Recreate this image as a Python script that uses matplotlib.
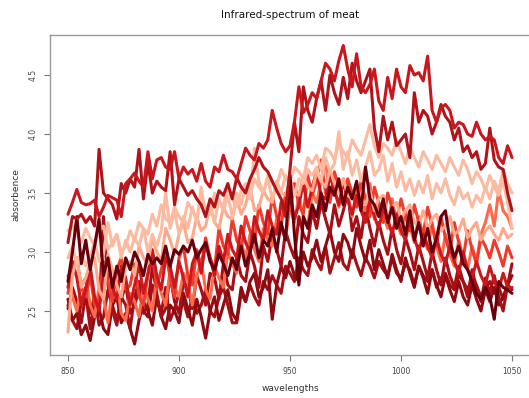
import numpy as np
import matplotlib
matplotlib.use('Agg')
import matplotlib.pyplot as plt

# wavelengths 850..1050 nm, step 2
wavelengths = np.arange(850, 1051, 2)

# absorbance spectra (one list per sample)
spec_t1 = [3.32, 3.42, 3.53, 3.42, 3.40, 3.41, 3.44, 3.30, 3.38, 3.48,
           3.46, 3.44, 3.30, 3.58, 3.62, 3.67, 3.60, 3.55, 3.85, 3.62,
           3.78, 3.80, 3.72, 3.70, 3.85, 3.62, 3.72, 3.66, 3.70, 3.60,
           3.75, 3.60, 3.55, 3.72, 3.68, 3.82, 3.70, 3.68, 3.62, 3.75,
           3.88, 3.82, 3.78, 3.92, 3.88, 3.95, 4.20, 4.05, 3.92, 3.85,
           3.90, 4.10, 4.40, 4.18, 4.25, 4.35, 4.30, 4.45, 4.60, 4.55,
           4.45, 4.62, 4.75, 4.55, 4.40, 4.68, 4.40, 4.35, 4.42, 4.55,
           4.28, 4.20, 4.48, 4.30, 4.55, 4.40, 4.35, 4.58, 4.50, 4.52,
           4.45, 4.66, 4.20, 4.10, 4.22, 4.25, 4.20, 4.05, 4.10, 4.08,
           4.00, 3.98, 4.10, 4.00, 3.95, 3.98, 3.95, 3.80, 3.75, 3.90,
           3.80]
spec_t2 = [3.08, 3.30, 3.28, 3.32, 3.25, 3.30, 3.22, 3.87, 3.50, 3.45,
           3.40, 3.28, 3.58, 3.50, 3.62, 3.55, 3.87, 3.45, 3.76, 3.50,
           3.60, 3.55, 3.52, 3.85, 3.40, 3.62, 3.55, 3.48, 3.52, 3.45,
           3.40, 3.30, 3.45, 3.38, 3.52, 3.48, 3.58, 3.45, 3.63, 3.55,
           3.50, 3.62, 3.70, 3.80, 3.72, 3.68, 3.60, 3.52, 3.45, 3.35,
           3.70, 4.10, 3.85, 4.40, 4.20, 4.10, 4.30, 4.45, 4.20, 4.50,
           4.35, 4.25, 4.48, 4.30, 4.60, 4.45, 4.35, 4.45, 4.55, 4.05,
           3.85, 4.15, 3.95, 4.10, 3.90, 3.95, 4.00, 3.80, 4.35, 4.10,
           4.20, 4.15, 4.00, 4.10, 4.25, 4.15, 4.10, 3.95, 4.05, 3.85,
           3.90, 3.80, 3.85, 3.70, 3.75, 4.05, 3.78, 3.72, 3.70, 3.50,
           3.35]
spec_p1 = [3.18, 3.22, 3.15, 3.08, 3.20, 3.12, 3.05, 3.18, 3.22, 3.02,
           3.08, 3.15, 3.00, 3.05, 3.18, 3.10, 3.25, 3.20, 3.15, 3.32,
           3.22, 3.40, 3.28, 3.25, 3.38, 3.30, 3.25, 3.42, 3.35, 3.28,
           3.45, 3.38, 3.32, 3.50, 3.42, 3.40, 3.55, 3.45, 3.38, 3.52,
           3.58, 3.48, 3.62, 3.55, 3.50, 3.65, 3.58, 3.55, 3.70, 3.62,
           3.60, 3.72, 3.68, 3.62, 3.80, 3.75, 3.82, 3.70, 3.88, 3.85,
           3.78, 3.92, 3.85, 3.80, 3.95, 3.88, 3.82, 3.95, 4.08, 3.90,
           3.80, 3.92, 3.88, 3.82, 3.95, 3.85, 3.75, 3.90, 3.80, 3.72,
           3.85, 3.78, 3.70, 3.82, 3.75, 3.68, 3.80, 3.72, 3.65, 3.78,
           3.70, 3.58, 3.68, 3.62, 3.52, 3.65, 3.55, 3.48, 3.60, 3.42,
           3.20]
spec_p2 = [2.95, 3.05, 2.90, 3.00, 2.88, 2.95, 3.10, 2.92, 2.98, 3.25,
           3.05, 3.15, 2.95, 3.10, 3.00, 3.12, 3.05, 3.20, 3.00, 3.15,
           3.05, 3.18, 3.50, 3.20, 3.35, 3.15, 3.30, 3.20, 3.38, 3.25,
           3.55, 3.30, 3.40, 3.25, 3.45, 3.35, 3.48, 3.30, 3.50, 3.40,
           3.55, 3.45, 3.88, 3.60, 3.50, 3.62, 3.45, 3.58, 3.50, 3.65,
           3.55, 3.48, 3.62, 3.58, 3.70, 3.65, 3.72, 3.60, 3.80, 3.68,
           3.75, 4.02, 3.70, 3.85, 3.65, 3.78, 3.60, 3.72, 3.85, 3.65,
           3.70, 3.82, 3.60, 3.75, 3.55, 3.68, 3.52, 3.62, 3.48, 3.60,
           3.50, 3.65, 3.45, 3.58, 3.50, 3.62, 3.48, 3.40, 3.55, 3.45,
           3.50, 3.38, 3.48, 3.42, 3.55, 3.45, 3.60, 3.52, 3.70, 3.58,
           3.50]
spec_p3 = [2.32, 2.80, 2.95, 2.70, 2.78, 2.92, 2.95, 2.68, 2.60, 2.98,
           2.85, 2.72, 2.62, 2.88, 2.92, 2.80, 3.05, 2.95, 2.90, 3.12,
           3.00, 2.92, 3.20, 3.10, 2.98, 3.15, 3.25, 3.08, 3.12, 3.30,
           3.18, 3.22, 3.40, 3.25, 3.20, 3.38, 3.30, 3.28, 3.45, 3.32,
           3.40, 3.55, 3.35, 3.38, 3.52, 3.45, 3.42, 3.60, 3.50, 3.48,
           3.62, 3.50, 3.48, 3.65, 3.55, 3.52, 3.68, 3.60, 3.55, 3.70,
           3.58, 3.50, 3.62, 3.48, 3.45, 3.58, 3.42, 3.40, 3.52, 3.35,
           3.45, 3.48, 3.30, 3.38, 3.42, 3.28, 3.35, 3.40, 3.25, 3.22,
           3.35, 3.20, 3.28, 3.32, 3.18, 3.22, 3.30, 3.15, 3.18, 3.28,
           3.12, 3.20, 3.25, 3.10, 3.18, 3.22, 3.15, 3.10, 3.20, 3.12,
           3.15]
spec_o1 = [2.65, 2.85, 2.95, 2.70, 2.62, 2.80, 2.55, 2.60, 2.92, 2.75,
           2.58, 2.85, 2.95, 2.68, 2.72, 2.90, 2.62, 2.55, 2.80, 2.98,
           2.70, 2.85, 3.00, 2.78, 2.62, 2.95, 3.05, 2.80, 2.72, 3.02,
           2.88, 3.12, 2.95, 2.85, 3.20, 3.05, 2.98, 3.28, 3.10, 3.02,
           3.30, 3.18, 3.08, 3.40, 3.25, 3.15, 3.48, 3.30, 3.22, 3.50,
           3.35, 3.58, 3.40, 3.32, 3.65, 3.48, 3.60, 3.78, 3.50, 3.42,
           3.68, 3.55, 3.40, 3.62, 3.50, 3.38, 3.60, 3.45, 3.30, 3.55,
           3.42, 3.25, 3.50, 3.38, 3.28, 3.45, 3.30, 3.18, 3.40, 3.25,
           3.15, 3.38, 3.22, 3.05, 3.30, 3.12, 3.00, 3.25, 3.08, 2.95,
           3.18, 3.02, 2.90, 3.12, 3.05, 2.95, 3.10, 3.00, 2.88, 3.05,
           2.95]
spec_o2 = [2.80, 2.62, 2.50, 2.72, 2.78, 2.55, 2.45, 2.70, 2.62, 2.40,
           2.68, 2.75, 2.48, 2.42, 2.65, 2.58, 2.45, 2.72, 2.60, 2.50,
           2.78, 2.65, 2.55, 2.85, 2.70, 2.62, 2.82, 2.75, 2.55, 2.80,
           2.92, 2.68, 2.60, 2.88, 2.78, 2.70, 3.00, 2.90, 2.82, 3.08,
           2.95, 3.15, 3.02, 2.92, 3.20, 3.10, 3.05, 3.28, 3.18, 3.12,
           3.38, 3.25, 3.48, 3.30, 3.22, 3.50, 3.42, 3.60, 3.78, 3.45,
           3.55, 3.38, 3.62, 3.48, 3.30, 3.52, 3.40, 3.35, 3.58, 3.28,
           3.40, 3.32, 3.20, 3.45, 3.25, 3.15, 3.35, 3.22, 3.08, 3.30,
           3.12, 3.02, 3.25, 3.05, 2.92, 3.15, 2.98, 2.88, 3.10, 2.95,
           2.85, 3.05, 2.92, 3.15, 3.25, 3.40, 3.22, 3.52, 3.35, 3.30,
           3.20]
spec_d1 = [2.75, 3.00, 3.30, 2.90, 3.10, 2.85, 3.05, 3.28, 2.80, 2.95,
           2.70, 2.88, 2.75, 2.95, 2.85, 3.00, 2.92, 2.80, 2.98, 2.90,
           2.95, 2.90, 3.05, 2.88, 3.02, 2.98, 3.05, 3.00, 3.10, 2.95,
           3.02, 3.08, 2.92, 2.85, 2.98, 2.90, 2.80, 2.95, 2.85, 3.05,
           2.88, 3.00, 3.15, 2.95, 3.10, 3.05, 3.20, 3.00, 3.25, 3.10,
           3.65, 3.15, 2.72, 3.30, 3.20, 3.40, 3.30, 3.50, 3.35, 3.55,
           3.48, 3.62, 3.40, 3.55, 3.45, 3.60, 3.35, 3.72, 3.45, 3.40,
           3.30, 3.45, 3.25, 3.38, 3.20, 3.30, 3.15, 3.35, 3.10, 3.25,
           3.05, 3.20, 3.00, 3.12, 3.30, 3.35, 3.10, 2.95, 3.05, 2.90,
           2.85, 2.75, 2.65, 2.60, 2.70, 2.62, 2.43, 2.75, 2.70, 2.68,
           2.65]
spec_d2 = [2.52, 2.70, 2.58, 2.40, 2.65, 2.35, 2.60, 2.48, 3.30, 2.72,
           2.50, 2.38, 2.62, 2.55, 2.35, 2.62, 2.75, 2.48, 2.55, 2.88,
           2.65, 2.45, 2.52, 2.80, 2.58, 2.48, 2.75, 2.70, 2.52, 2.80,
           2.68, 2.55, 2.82, 2.78, 2.60, 2.90, 2.72, 2.68, 2.95, 2.80,
           2.75, 3.00, 2.88, 2.70, 3.05, 2.92, 3.15, 3.02, 2.88, 3.18,
           3.05, 2.95, 3.30, 3.15, 3.08, 3.35, 3.20, 3.42, 3.28, 3.15,
           3.40, 3.22, 3.35, 3.50, 3.18, 3.30, 3.12, 3.38, 3.20, 3.05,
           3.25, 3.10, 2.98, 3.20, 3.02, 2.90, 3.12, 3.00, 2.85, 3.05,
           2.92, 2.78, 3.00, 2.85, 2.72, 2.95, 2.80, 2.70, 2.88, 2.75,
           2.62, 2.85, 2.70, 2.58, 2.78, 2.65, 2.80, 2.62, 2.50, 2.72,
           2.90]
spec_d3 = [2.60, 2.42, 2.48, 2.30, 2.38, 2.25, 2.45, 2.52, 2.35, 2.30,
           2.55, 2.62, 2.40, 2.48, 2.35, 2.22, 2.42, 2.58, 2.50, 2.38,
           2.62, 2.45, 2.35, 2.55, 2.50, 2.40, 2.65, 2.52, 2.38, 2.60,
           2.45, 2.27, 2.50, 2.62, 2.42, 2.55, 2.68, 2.48, 2.42, 2.70,
           2.58, 2.75, 2.82, 2.62, 2.70, 2.85, 2.43, 2.72, 2.88, 2.78,
           2.92, 2.80, 2.75, 3.00, 2.88, 2.95, 3.10, 2.92, 3.05, 3.18,
           3.00, 2.92, 3.15, 3.08, 2.95, 3.20, 3.05, 2.92, 3.10, 2.85,
           3.02, 2.90, 2.78, 2.98, 2.85, 2.75, 2.95, 2.82, 2.70, 2.88,
           2.78, 2.65, 2.85, 2.72, 2.62, 2.80, 2.68, 2.58, 2.75, 2.62,
           2.55, 2.72, 2.60, 2.50, 2.68, 2.58, 2.70, 2.55, 2.62, 2.72,
           2.80]
spec_r1 = [2.70, 2.92, 2.78, 2.55, 2.68, 2.88, 2.62, 2.50, 2.80, 2.95,
           2.70, 2.60, 2.88, 2.78, 2.55, 2.72, 2.90, 2.65, 2.82, 3.02,
           2.80, 2.68, 2.95, 2.88, 2.70, 2.92, 2.78, 2.62, 2.90, 3.00,
           2.82, 3.08, 2.95, 2.80, 3.05, 2.92, 3.15, 3.02, 2.95, 3.22,
           3.08, 3.00, 3.30, 3.18, 3.10, 3.35, 3.22, 3.15, 3.42, 3.30,
           3.48, 3.28, 3.40, 3.58, 3.38, 3.55, 3.68, 3.48, 3.45, 3.65,
           3.52, 3.40, 3.60, 3.45, 3.32, 3.48, 3.35, 3.25, 3.45, 3.30,
           3.20, 3.38, 3.28, 3.15, 3.32, 3.18, 3.10, 3.28, 3.12, 3.00,
           3.15, 3.05, 2.95, 3.12, 2.98, 2.90, 3.05, 2.92, 2.82, 3.00,
           2.85, 2.78, 2.92, 2.80, 2.72, 2.88, 2.75, 2.68, 2.82, 2.70,
           2.70]
spec_r2 = [2.55, 2.42, 2.35, 2.58, 2.70, 2.48, 2.62, 2.38, 2.45, 2.68,
           2.55, 2.42, 2.60, 2.72, 2.48, 2.55, 2.68, 2.50, 2.45, 2.72,
           2.60, 2.48, 2.70, 2.42, 2.52, 2.65, 2.58, 2.45, 2.62, 2.48,
           2.55, 2.68, 2.50, 2.45, 2.62, 2.70, 2.55, 2.40, 2.40, 2.65,
           2.58, 2.72, 2.62, 2.55, 2.75, 2.68, 2.80, 2.72, 2.65, 2.88,
           2.82, 2.75, 2.95, 2.85, 2.80, 3.02, 2.92, 2.85, 3.05, 2.82,
           2.95, 3.08, 2.90, 2.85, 3.02, 2.90, 2.80, 2.95, 2.88, 2.78,
           2.92, 2.85, 2.80, 2.95, 2.82, 2.78, 2.90, 2.85, 2.72, 2.88,
           2.80, 2.75, 2.85, 2.70, 2.78, 2.82, 2.72, 2.68, 2.80, 2.75,
           2.68, 2.78, 2.72, 2.62, 2.70, 2.75, 2.65, 2.70, 2.60, 2.72,
           2.68]

# drawing order (first drawn ends up underneath)
spectra = [spec_r2, spec_d3, spec_d2, spec_o2, spec_o1, spec_r1,
           spec_p3, spec_p2, spec_p1, spec_d1, spec_t2, spec_t1]
line_colors = ['#A50F15', '#8E0B12', '#A50F15', '#FB6A4A', '#EF3B2C', '#CB181D',
               '#FCA98C', '#FCBBA1', '#FCBBA1', '#67000D', '#B0141A', '#C9171E']

fig = plt.figure(figsize=(5.29, 3.98), dpi=100)
ax = fig.add_axes([50 / 529, 1 - 355 / 398, 480 / 529, 320 / 398])

for spec, col in zip(spectra, line_colors):
    ax.plot(wavelengths, spec, color=col, lw=2.2,
            solid_joinstyle='round', solid_capstyle='round')

ax.set_xlim(841.9, 1058.1)
ax.set_ylim(2.127, 4.839)
ax.set_xticks([850, 900, 950, 1000, 1050])
ax.set_yticks([2.5, 3.0, 3.5, 4.0, 4.5])
ax.set_yticklabels(['2.5', '3.0', '3.5', '4.0', '4.5'], rotation=90, va='center')
ax.tick_params(length=4, width=0.8, color='#777777', labelsize=5.5,
               labelcolor='#444444', pad=5)
for s in ax.spines.values():
    s.set_color('#999999')
    s.set_linewidth(1.0)

ax.set_xlabel('wavelengths', fontsize=6.5, color='#333333')
ax.set_ylabel('absorbence', fontsize=6.5, color='#333333')
ax.xaxis.set_label_coords(0.5, -0.09)
ax.yaxis.set_label_coords(-0.062, 0.5)
fig.text(290 / 529, 1 - 15 / 398, 'Infrared-spectrum of meat', ha='center',
         va='center', fontsize=7.5, color='#111111')

fig.savefig('out.png', dpi=100)
